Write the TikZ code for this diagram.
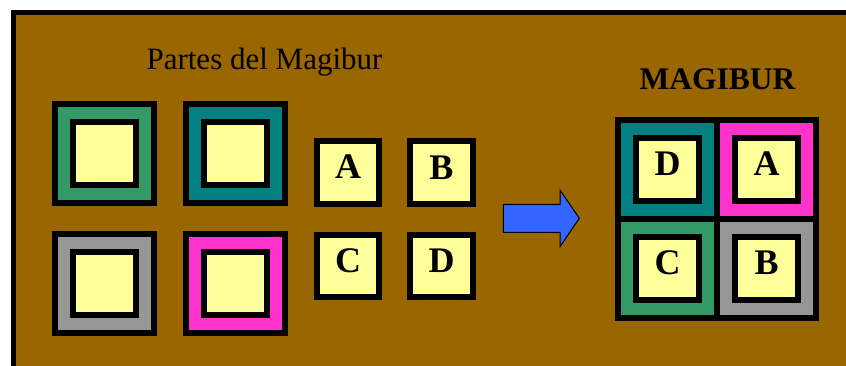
\documentclass[tikz,border=0pt]{standalone}
\usepackage{fontspec}
\setmainfont{Liberation Serif}
\definecolor{board}{HTML}{996600}
\definecolor{seagreen}{HTML}{339966}
\definecolor{tealring}{HTML}{008080}
\definecolor{greyring}{HTML}{969696}
\definecolor{pinkring}{HTML}{FF33CC}
\definecolor{cream}{HTML}{FFFF99}
\definecolor{arrowblue}{HTML}{3366FF}
\begin{document}
\begin{tikzpicture}[x=1pt,y=-1pt,
  piece/.style={rectangle, draw=black, line width=6pt, minimum size=99pt, inner sep=0pt, outer sep=0pt},
  core/.style={rectangle, draw=black, fill=cream, line width=6pt, minimum size=63pt, inner sep=0pt, outer sep=0pt},
  tile/.style={rectangle, draw=black, fill=cream, line width=5.6pt, minimum size=62.5pt, inner sep=0pt, outer sep=0pt},
  letter/.style={font=\bfseries\fontsize{36}{36}\selectfont, anchor=base, inner sep=0pt},
  heading/.style={font=\fontsize{31}{31}\selectfont, anchor=base, inner sep=0pt},
  boldheading/.style={font=\bfseries\fontsize{31.5}{31.5}\selectfont, anchor=base, inner sep=0pt}]
\useasboundingbox (0,0) rectangle (846,365);
\clip (0,0) rectangle (846,365);
\fill[white] (0,0) rectangle (846,365);
% brown board with a black frame (runs off the right and bottom edges)
\draw[line width=5.3pt, fill=board] (13.6,12.7) rectangle (870,390);

% headings
\node[heading] (parts) at (264.5,69.3) {Partes del Magibur};
\node[boldheading] (title) at (717.5,89.3) {MAGIBUR};

% loose ring pieces
\node[piece, fill=seagreen] (p1) at (104.5,153) {};
\node[core] (c1) at (p1.center) {};
\node[piece, fill=tealring] (p2) at (235.3,153) {};
\node[core] (c2) at (p2.center) {};
\node[piece, fill=greyring] (p3) at (104.5,283.7) {};
\node[core] (c3) at (p3.center) {};
\node[piece, fill=pinkring] (p4) at (235.3,283.7) {};
\node[core] (c4) at (p4.center) {};

% loose letter tiles
\node[tile] (ta) at (348,172.5) {};
\node[tile] (tb) at (441.5,172.5) {};
\node[tile] (tc) at (348,266) {};
\node[tile] (td) at (441.5,266) {};
\node[letter] (la) at ([yshift=-6pt]ta.center) {A};
\node[letter] (lb) at ([yshift=-7pt]tb.center) {B};
\node[letter] (lc) at ([yshift=-6.5pt]tc.center) {C};
\node[letter] (ld) at ([yshift=-6.5pt]td.center) {D};

% block arrow
\draw[line width=1pt, line join=miter, fill=arrowblue]
  (503.3,204.3) -- (560,204.3) -- (560,190) -- (579.3,218.3)
  -- (560,246.7) -- (560,232.3) -- (503.3,232.3) -- cycle;

% assembled magibur
\node[piece, fill=tealring] (m1) at (667.5,169) {};
\node[piece, fill=pinkring] (m2) at (766.5,169) {};
\node[piece, fill=seagreen] (m3) at (667.5,268) {};
\node[piece, fill=greyring] (m4) at (766.5,268) {};
\node[core] (k1) at (m1.center) {};
\node[core] (k2) at (m2.center) {};
\node[core] (k3) at (m3.center) {};
\node[core] (k4) at (m4.center) {};
\node[letter] (md) at ([yshift=-6pt]k1.center) {D};
\node[letter] (ma) at ([yshift=-6pt]k2.center) {A};
\node[letter] (mc) at ([yshift=-6pt]k3.center) {C};
\node[letter] (mb) at ([yshift=-6pt]k4.center) {B};
\end{tikzpicture}
\end{document}
